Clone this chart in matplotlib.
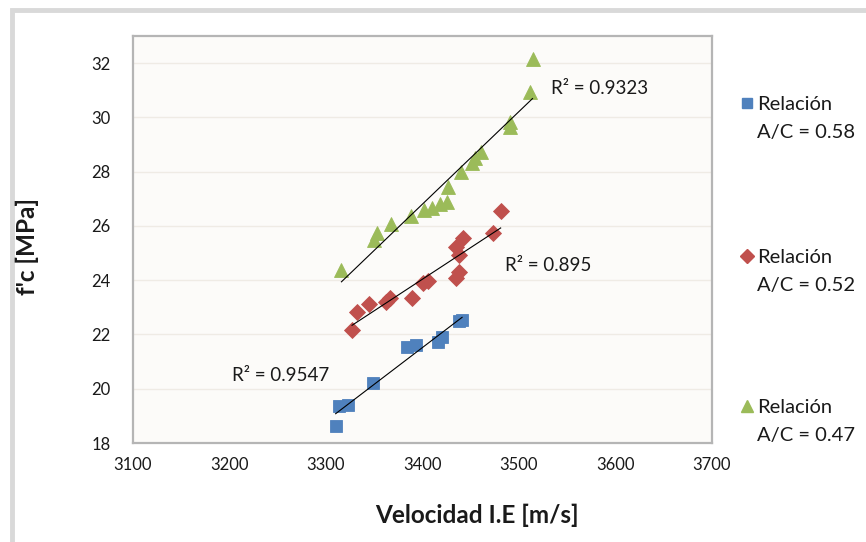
#!/usr/bin/env python3
"""f'c vs velocidad de impacto-eco para tres relaciones A/C, con rectas de tendencia."""
import matplotlib
matplotlib.use("Agg")
import matplotlib.pyplot as plt
import numpy as np
from matplotlib.lines import Line2D
from matplotlib.patches import Rectangle

plt.rcParams["font.family"] = ["Lato", "DejaVu Sans"]

# A/C = 0.58
vel_058 = [3310, 3313, 3323, 3349, 3384, 3393, 3416, 3420, 3438, 3441]
fc_058 = [18.63, 19.36, 19.40, 20.22, 21.53, 21.61, 21.73, 21.89, 22.50, 22.55]

# A/C = 0.52
vel_052 = [3327, 3332, 3345, 3362, 3366, 3389, 3401, 3406, 3435, 3438, 3438,
           3435, 3442, 3473, 3481]
fc_052 = [22.16, 22.84, 23.12, 23.21, 23.33, 23.33, 23.88, 23.98, 24.07, 24.31,
          24.93, 25.23, 25.54, 25.73, 26.55]

# A/C = 0.47
vel_047 = [3316, 3350, 3353, 3367, 3388, 3402, 3410, 3418, 3425, 3426, 3440,
           3451, 3454, 3461, 3491, 3491, 3511, 3514]
fc_047 = [24.37, 25.48, 25.73, 26.07, 26.36, 26.59, 26.65, 26.81, 26.89, 27.44,
          28.00, 28.31, 28.49, 28.73, 29.63, 29.84, 30.94, 32.14]

series = [
    ("Relación", "A/C = 0.58", vel_058, fc_058, "#4F81BD", "s", 8, "R² = 0.9547", (3203, 20.47)),
    ("Relación", "A/C = 0.52", vel_052, fc_052, "#C0504D", "D", 8, "R² = 0.895", (3486, 24.56)),
    ("Relación", "A/C = 0.47", vel_047, fc_047, "#9BBB59", "^", 10, "R² = 0.9323", (3533, 31.08)),
]

fig = plt.figure(figsize=(8.66, 5.42), dpi=100)
fig.patch.set_facecolor("white")

# chart-area frame (only top/left edges fall inside the picture)
fig.patches.append(Rectangle((12 / 866, -0.1), 1.2, 1 - 10 / 542 + 0.1, transform=fig.transFigure,
                             fill=False, edgecolor="#d9d9d9", linewidth=3.5))

ax = fig.add_axes([133 / 866, 1 - 443 / 542, (712 - 133) / 866, (443 - 36) / 542])
ax.set_facecolor("#fcfbf9")

for line1, line2, x, y, color, marker, size, r2, r2_pos in series:
    ax.plot(x, y, linestyle="none", marker=marker, markersize=size, color=color,
            markeredgewidth=0.6, markeredgecolor=color, zorder=3)
    slope, intercept = np.polyfit(x, y, 1)
    xs = np.array([min(x), max(x)])
    ax.plot(xs, slope * xs + intercept, color="black", linewidth=0.8, zorder=4)
    ax.text(r2_pos[0], r2_pos[1], r2, fontsize=13.5, va="center", ha="left", color="#1a1a1a")

ax.set_xlim(3100, 3700)
ax.set_ylim(18, 33)
ax.set_xticks(np.arange(3100, 3701, 100))
ax.set_yticks(np.arange(18, 33, 2))
ax.grid(axis="y", color="#efebe5", linewidth=1)
ax.set_axisbelow(True)
ax.tick_params(length=0, labelsize=12, colors="#1a1a1a")
ax.tick_params(axis="y", pad=16)
ax.tick_params(axis="x", pad=10)
for spine in ax.spines.values():
    spine.set_color("#b5b5b5")
    spine.set_linewidth(1.6)

fig.text(477 / 866, 1 - 515 / 542, "Velocidad I.E [m/s]", fontsize=17.5, fontweight="bold",
         ha="center", va="center", color="#1a1a1a")
fig.text(27 / 866, 1 - 247 / 542, "f'c [MPa]", rotation=90, fontsize=17.5, fontweight="bold",
         ha="center", va="center", color="#1a1a1a")

# legend to the right of the plot area
legend_rows = [103, 256, 406]
for (line1, line2, x, y, color, marker, size, r2, r2_pos), row in zip(series, legend_rows):
    fig.add_artist(Line2D([747 / 866], [1 - row / 542], transform=fig.transFigure, linestyle="none",
                          marker=marker, markersize=size * 0.9, color=color))
    fig.text(757 / 866, 1 - row / 542, line1, fontsize=14.5, ha="left", va="center_baseline",
             color="#1a1a1a")
    fig.text(757 / 866, 1 - (row + 28) / 542, line2, fontsize=14.5, ha="left", va="center_baseline",
             color="#1a1a1a")

fig.savefig("out.png", dpi=100)
